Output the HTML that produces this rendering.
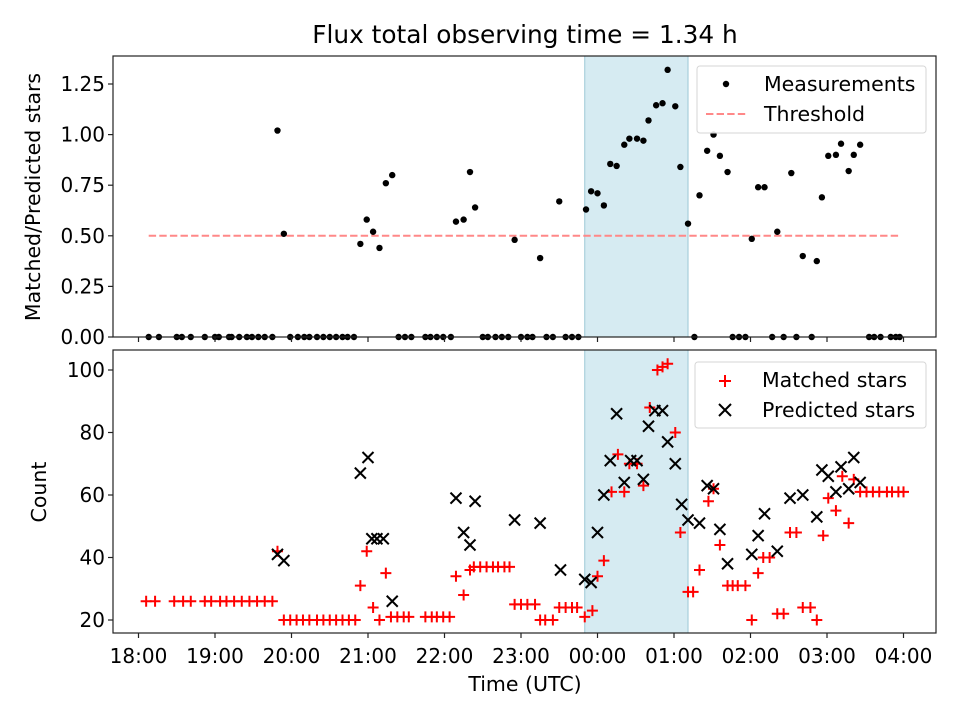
<!DOCTYPE html>
<html><head><meta charset="utf-8"><style>
body{margin:0;background:#fff;}
svg{display:block;font-family:"DejaVu Sans","Liberation Sans",sans-serif;}
</style></head><body>
<svg id="chart" width="960" height="720" viewBox="0 0 960 720">
<rect width="960" height="720" fill="#fff"/>
<g id="g"></g>
<text x="525" y="43" text-anchor="middle" font-size="24.8">Flux total observing time = 1.34 h</text>
<text transform="translate(40,197) rotate(-90)" text-anchor="middle" font-size="20.5">Matched/Predicted stars</text>
<text transform="translate(46,492) rotate(-90)" text-anchor="middle" font-size="20.5">Count</text>
<text x="525" y="691" text-anchor="middle" font-size="20.5">Time (UTC)</text>
<g font-size="20.5">
<rect x="697" y="66" width="229" height="67" rx="3" fill="#fff" fill-opacity="0.85" stroke="#d6d6d6"/>
<circle cx="726" cy="84" r="3.2" fill="#000"/>
<text x="764" y="91">Measurements</text>
<line x1="706" x2="747" y1="114" y2="114" stroke="#f88" stroke-width="2" stroke-dasharray="7.4,3.2"/>
<text x="764" y="121">Threshold</text>
</g>
<g font-size="20.5">
<rect x="695" y="362" width="231" height="66" rx="3" fill="#fff" fill-opacity="0.85" stroke="#d6d6d6"/>
<path d="M719,381H731M725,375V387" stroke="#f00" stroke-width="2"/>
<text x="762" y="387">Matched stars</text>
<path d="M719,404L731,416M719,416L731,404" stroke="#000" stroke-width="2"/>
<text x="762" y="417">Predicted stars</text>
</g>
</svg>
<script>
// times in minutes since 18:00
const matchedTimes=[6,13,28,35,41,52,57,64,69,75,81,87,93,99,105,109,114,119,124,129,134,140,145,150,155,160,165,170,174,179,184,189,194,198,203,208,212,225,230,234,239,244,249,255,260,263,268,273,278,282,287,291,295,300,305,311,315,319,325,330,335,340,344,350,356,360,365,371,376,381,385,391,396,401,407,411,415,421,425,431,435,440,447,451,456,462,466,470,476,481,486,490,495,501,506,511,516,521,527,532,537,541,547,552,557,561,566,571,576,581,587,591,596,600];
const matchedCounts=[26,26,26,26,26,26,26,26,26,26,26,26,26,26,26,42,20,20,20,20,20,20,20,20,20,20,20,20,31,42,24,20,35,21,21,21,21,21,21,21,21,21,34,28,36,37,37,37,37,37,37,37,25,25,25,25,20,20,20,24,24,24,24,21,23,34,39,61,73,61,70,70,63,88,100,101,102,80,48,29,29,36,58,62,44,31,31,31,31,20,35,40,40,22,22,48,48,24,24,20,47,59,55,66,51,65,61,61,61,61,61,61,61,61];
const predTimes=[109,114,174,180,183,187,192,199,249,255,260,264,295,315,331,350,355,360,365,370,375,381,386,391,396,400,405,411,415,421,426,431,440,446,451,456,462,481,486,491,501,511,521,532,536,541,547,551,557,561,566];
const predCounts=[41,39,67,72,46,46,46,26,59,48,44,58,52,51,36,33,32,48,60,71,86,64,71,71,65,82,87,87,77,70,57,52,51,63,62,49,38,41,47,54,42,59,60,53,68,66,61,69,62,72,64];
const ratioTimes=[109,114,174,179,184,189,194,199,249,255,260,264,295,315,330,351,355,360,365,370,375,381,385,391,396,400,406,411,415,421,425,431,440,446,451,456,462,481,486,491,501,512,521,532,536,541,547,551,557,561,566,
8,16,30,34,41,52,60,63,71,73,79,85,89,94,99,105,119,125,130,134,140,145,150,155,160,164,169,204,209,214,225,229,234,239,245,270,274,280,285,290,300,305,309,320,325,335,340,345,436,466,471,476,497,506,516,528,573,577,582,590,594,597];
const ratioValues=[1.02,0.51,0.46,0.58,0.52,0.44,0.76,0.80,0.57,0.58,0.815,0.64,0.48,0.39,0.67,0.63,0.72,0.71,0.65,0.855,0.845,0.95,0.98,0.98,0.97,1.07,1.145,1.155,1.32,1.14,0.84,0.56,0.70,0.92,1.0,0.895,0.815,0.485,0.74,0.74,0.52,0.81,0.40,0.375,0.69,0.895,0.90,0.955,0.82,0.90,0.95,
0,0,0,0,0,0,0,0,0,0,0,0,0,0,0,0,0,0,0,0,0,0,0,0,0,0,0,0,0,0,0,0,0,0,0,0,0,0,0,0,0,0,0,0,0,0,0,0,0,0,0,0,0,0,0,0,0,0,0,0,0,0];
const threshold=0.5, thresholdStart=8, thresholdEnd=597;
const windowStart=350, windowEnd=431;
const xTickLabels=["18:00","19:00","20:00","21:00","22:00","23:00","00:00","01:00","02:00","03:00","04:00"];
const topTicks=[0,0.25,0.5,0.75,1.0,1.25];
const botTicks=[20,40,60,80,100];

const NS="http://www.w3.org/2000/svg";
const g=document.getElementById('g');
function mk(t,a,txt,p){const e=document.createElementNS(NS,t);for(const k in a)e.setAttribute(k,a[k]);if(txt!=null)e.textContent=txt;(p||g).appendChild(e);return e;}
const X0=113,X1=936,T0=56,T1=337,B0=350,B1=633;
const xs=m=>138.5+m*76.5/60;
const yt=v=>337-v*202.4;
const yb=v=>620-(v-20)*3.125;

let s1=mk('rect',{x:xs(windowStart),y:T0,width:xs(windowEnd)-xs(windowStart),height:T1-T0,fill:'#add8e6','fill-opacity':0.5,stroke:'#9cc8d6'});


let s2=mk('rect',{x:xs(windowStart),y:B0,width:xs(windowEnd)-xs(windowStart),height:B1-B0,fill:'#add8e6','fill-opacity':0.5,stroke:'#9cc8d6'});



let th=mk('line',{x1:xs(thresholdStart),x2:xs(thresholdEnd),y1:yt(threshold),y2:yt(threshold),stroke:'#f88',"stroke-width":2,"stroke-dasharray":"7.4,3.2"});



ratioTimes.forEach((t,i)=>{const c=mk('circle',{cx:xs(t),cy:yt(ratioValues[i]),r:3.2,fill:'#000'});

});

matchedTimes.forEach((t,i)=>{const x=xs(t),y=yb(matchedCounts[i]);
const p=mk('path',{d:`M${x-5.5},${y}H${x+5.5}M${x},${y-5.5}V${y+5.5}`,stroke:'#f00','stroke-width':2,fill:'none'});

});
predTimes.forEach((t,i)=>{const x=xs(t),y=yb(predCounts[i]);
const p=mk('path',{d:`M${x-5.5},${y-5.5}L${x+5.5},${y+5.5}M${x-5.5},${y+5.5}L${x+5.5},${y-5.5}`,stroke:'#000','stroke-width':2,fill:'none'});

});

let f1=mk('rect',{x:X0,y:T0,width:X1-X0,height:T1-T0,fill:'none',stroke:'#222','stroke-width':1.2});


let f2=mk('rect',{x:X0,y:B0,width:X1-X0,height:B1-B0,fill:'none',stroke:'#222','stroke-width':1.2});



xTickLabels.forEach((l,i)=>{const x=xs(i*60);
mk('line',{x1:x,x2:x,y1:T1,y2:T1+5,stroke:'#222','stroke-width':1.2});
mk('line',{x1:x,x2:x,y1:B1,y2:B1+5,stroke:'#222','stroke-width':1.2});
const t=mk('text',{x:x,y:B1+30,'text-anchor':'middle','font-size':20,fill:'#000'},l);

});
topTicks.forEach(v=>{const y=yt(v);
mk('line',{x1:X0-5,x2:X0,y1:y,y2:y,stroke:'#222','stroke-width':1.2});
const t=mk('text',{x:X0-8,y:y+7,'text-anchor':'end','font-size':20,fill:'#000'},v.toFixed(2));

});
botTicks.forEach(v=>{const y=yb(v);
mk('line',{x1:X0-5,x2:X0,y1:y,y2:y,stroke:'#222','stroke-width':1.2});
const t=mk('text',{x:X0-8,y:y+7,'text-anchor':'end','font-size':20,fill:'#000'},v);

});
</script>
</body></html>
